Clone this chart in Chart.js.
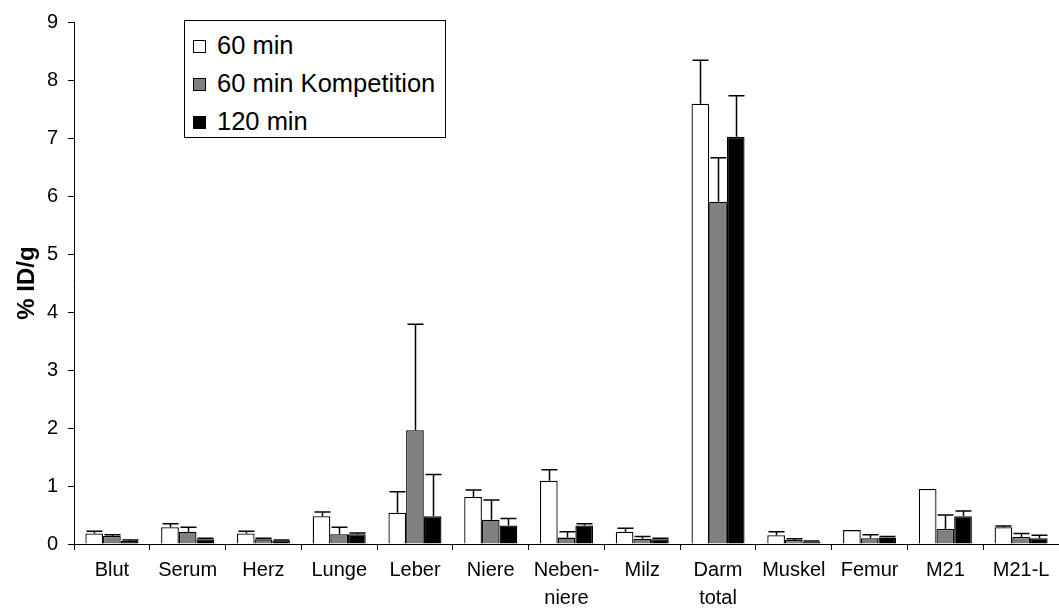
<!DOCTYPE html>
<html>
<head>
<meta charset="utf-8">
<script src="https://cdn.jsdelivr.net/npm/chart.js@4/dist/chart.umd.min.js"></script>
<style>
  html, body { margin: 0; padding: 0; background: #fff; }
  #wrap { position: relative; width: 1059px; height: 612px; }
  #legend {
    position: absolute; left: 184px; top: 20px; width: 262px; height: 118px;
    border: 1px solid #000; background: #fff; box-sizing: border-box;
    font-family: "Liberation Sans", Arial, sans-serif; font-size: 25.5px; color: #000;
  }
  .item { position: absolute; left: 8px; height: 30px; line-height: 30px; white-space: nowrap; }
  .swatch { display: inline-block; width: 11px; height: 11px; border: 1px solid #000; margin-right: 11px; vertical-align: 1px; }
</style>
</head>
<body>
<div id="wrap">
  <canvas id="chart" width="1059" height="612"></canvas>
  <div id="legend"></div>
</div>
<script>
// Werte (% ID/g, Mittelwert + Fehler nach oben)
const organe = ['Blut', 'Serum', 'Herz', 'Lunge', 'Leber', 'Niere', ['Neben-', 'niere'], 'Milz', ['Darm', 'total'], 'Muskel', 'Femur', 'M21', 'M21-L'];
const serienNamen = ['60 min', '60 min Kompetition', '120 min'];
const farben = ['#ffffff', '#808080', '#000000'];

const werte60 = [0.18, 0.29, 0.18, 0.48, 0.54, 0.81, 1.09, 0.21, 7.59, 0.15, 0.24, 0.95, 0.29];
const fehler60 = [0.04, 0.06, 0.04, 0.07, 0.36, 0.12, 0.19, 0.06, 0.75, 0.06, 0.0, 0.0, 0.02];
const werteKomp = [0.14, 0.21, 0.08, 0.17, 1.96, 0.42, 0.11, 0.09, 5.90, 0.07, 0.10, 0.26, 0.12];
const fehlerKomp = [0.02, 0.08, 0.02, 0.12, 1.83, 0.34, 0.10, 0.04, 0.76, 0.02, 0.06, 0.24, 0.06];
const werte120 = [0.05, 0.08, 0.06, 0.17, 0.48, 0.32, 0.32, 0.08, 7.02, 0.04, 0.11, 0.48, 0.10];
const fehler120 = [0.02, 0.02, 0.01, 0.02, 0.72, 0.12, 0.03, 0.02, 0.71, 0.01, 0.02, 0.09, 0.05];
const yTicks = [0, 1, 2, 3, 4, 5, 6, 7, 8, 9];

const fehlerListen = [fehler60, fehlerKomp, fehler120];

// Fehlerbalken (nur nach oben, mit Querstrich)
const errorBars = {
  id: 'errorBars',
  afterDatasetsDraw(chart) {
    const ctx = chart.ctx;
    const y = chart.scales.y;
    ctx.save();
    ctx.strokeStyle = '#000';
    ctx.lineWidth = 1.5;
    chart.data.datasets.forEach((ds, i) => {
      const meta = chart.getDatasetMeta(i);
      meta.data.forEach((bar, j) => {
        const err = fehlerListen[i][j];
        if (!err) return;
        const top = y.getPixelForValue(ds.data[j] + err);
        const x = Math.round(bar.x) + 0.5;
        ctx.beginPath();
        ctx.moveTo(x, bar.y);
        ctx.lineTo(x, top);
        ctx.moveTo(x - 8, top);
        ctx.lineTo(x + 8, top);
        ctx.stroke();
      });
    });
    ctx.restore();
  }
};

const datenSaetze = [werte60, werteKomp, werte120].map((d, i) => ({
  label: serienNamen[i],
  data: d,
  backgroundColor: farben[i],
  borderColor: '#000',
  borderWidth: 1.3,
  categoryPercentage: 0.7,
  barPercentage: 1.0
}));

const schrift = "'Liberation Sans', Arial, sans-serif";

new Chart(document.getElementById('chart').getContext('2d'), {
  type: 'bar',
  data: { labels: organe, datasets: datenSaetze },
  options: {
    responsive: false,
    animation: false,
    devicePixelRatio: 1,
    layout: { padding: { top: 21, right: 0, bottom: 0, left: 0 } },
    plugins: { legend: { display: false }, tooltip: { enabled: false } },
    scales: {
      x: {
        grid: { display: true, offset: true, drawOnChartArea: false, drawTicks: true, tickLength: 6, color: '#000' },
        border: { display: true, color: '#000', width: 1 },
        ticks: { color: '#000', font: { family: schrift, size: 20, lineHeight: 1.4 }, padding: 6, maxRotation: 0, autoSkip: false },
        afterFit(scale) { scale.height = 68; }
      },
      y: {
        min: 0,
        max: 9,
        afterBuildTicks(scale) { scale.ticks = yTicks.map(v => ({ value: v })); },
        grid: { display: true, drawOnChartArea: false, drawTicks: true, tickLength: 6, color: '#000' },
        border: { display: true, color: '#000', width: 1 },
        ticks: { color: '#000', font: { family: schrift, size: 20 }, padding: 10 },
        title: { display: true, text: '% ID/g', color: '#000', font: { family: schrift, size: 24, weight: 'bold' }, padding: { top: 13, bottom: 0 } },
        afterFit(scale) { scale.width = 74; }
      }
    }
  },
  plugins: [errorBars]
});

// Legende
const leg = document.getElementById('legend');
serienNamen.forEach((name, i) => {
  const el = document.createElement('div');
  el.className = 'item';
  el.style.top = (9 + i * 38) + 'px';
  el.innerHTML = `<span class="swatch" style="background:${farben[i]}"></span>${name}`;
  leg.appendChild(el);
});
</script>
</body>
</html>
